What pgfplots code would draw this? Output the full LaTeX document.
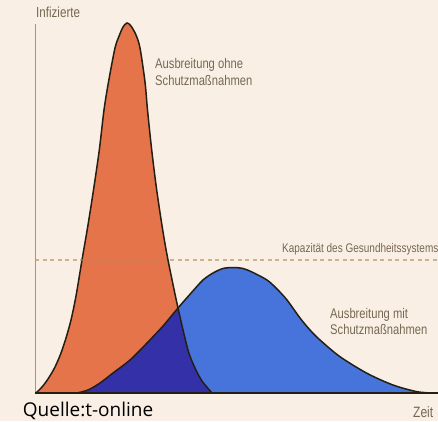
\documentclass[border=0pt]{standalone}
\usepackage{fontspec}
\setmainfont{Liberation Sans}
\newfontfamily\cond[FakeStretch=0.8]{Liberation Sans}
\newfontfamily\quelle{Open Sans}
\usepackage{pgfplots}
\usepackage{pgfplotstable}
\pgfplotsset{compat=1.18}
\usepgfplotslibrary{fillbetween}
\definecolor{bg}{HTML}{F9EFE4}
\definecolor{redc}{HTML}{E5744A}
\definecolor{bluec}{HTML}{4774DB}
\definecolor{darkc}{HTML}{3430A8}
\definecolor{outl}{HTML}{231F14}
\definecolor{txt}{HTML}{776852}
\definecolor{axc}{HTML}{A39886}
\definecolor{dashc}{HTML}{B08A5A}

\pgfplotstableread{
x h
36 0
42 6
48 14
55 26
61 40
66 55
71 73
76 97
82 133
87.5 165
93.5 203
99.3 243
104 283
108.5 311
115 345
119.5 358
123 366
127 370
131 367
136 358
140 345
145 311
147.5 283
151.7 243
156.7 203
162.7 163
168 133
178 85
188 43
195 25
202 12
212 0
}\redtab

\pgfplotstableread{
x h
77 0
88 3
100 10
113 20
130 33
147 50
163 67
178 85
192 101
203 113
213 120
223 124.5
233 125.5
243 124.5
252 121
267 113
277 104
287 93
300 75
310 63
320 53
340 36.3
367 19.7
393 8
417 1.3
433 0
}\bluetab

\begin{document}
\begin{tikzpicture}
\fill[bg] (0,0) rectangle (438pt,421pt);
\begin{axis}[at={(0,0)}, anchor=south west,
  width=438pt, height=421pt, scale only axis,
  xmin=0, xmax=438, ymin=-28, ymax=393,
  hide axis, clip=false]
\addplot[draw=none, fill=redc, smooth, name path=R] table[x=x,y=h] {\redtab};
\addplot[draw=none, fill=bluec, smooth, name path=B] table[x=x,y=h] {\bluetab};
\fill[darkc, intersection segments={of=B and R, sequence={L1 -- R2}}];
\addplot[draw=outl, line width=1.5pt, smooth] table[x=x,y=h] {\redtab};
\addplot[draw=outl, line width=1.5pt, smooth] table[x=x,y=h] {\bluetab};
\addplot[draw=dashc, opacity=0.6, line width=1.2pt, dash pattern=on 4pt off 3.5pt] coordinates {(35,133) (438,133)};
\addplot[draw=axc, line width=1pt] coordinates {(35,0) (35,369)};
\addplot[draw=outl, line width=1.6pt] coordinates {(35,0) (438,0)};
\node[anchor=base west, inner sep=0, text=txt, font=\cond\fontsize{14.5}{16}\selectfont] at (axis cs:36,375) {Infizierte};
\node[anchor=base west, inner sep=0, text=txt, font=\cond\fontsize{14}{16}\selectfont] at (axis cs:155,324) {Ausbreitung ohne};
\node[anchor=base west, inner sep=0, text=txt, font=\cond\fontsize{14}{16}\selectfont] at (axis cs:155,307) {Schutzmaßnahmen};
\node[anchor=base west, inner sep=0, text=txt, font=\cond\fontsize{12.5}{14}\selectfont] at (axis cs:282,141) {Kapazität des Gesundheitssystems};
\node[anchor=base west, inner sep=0, text=txt, font=\cond\fontsize{14}{16}\selectfont] at (axis cs:330,75) {Ausbreitung mit};
\node[anchor=base west, inner sep=0, text=txt, font=\cond\fontsize{14}{16}\selectfont] at (axis cs:330,58.5) {Schutzmaßnahmen};
\node[anchor=base west, inner sep=0, text=txt, font=\cond\fontsize{15}{16}\selectfont] at (axis cs:413,-24.3) {Zeit};
\node[anchor=base west, inner sep=0, text=black, font=\quelle\fontsize{19}{20}\selectfont] at (axis cs:22.7,-23.7) {Quelle:t-online};
\end{axis}
\pgfresetboundingbox
\path[use as bounding box] (0,0) rectangle (438pt,421pt);
\end{tikzpicture}
\end{document}
